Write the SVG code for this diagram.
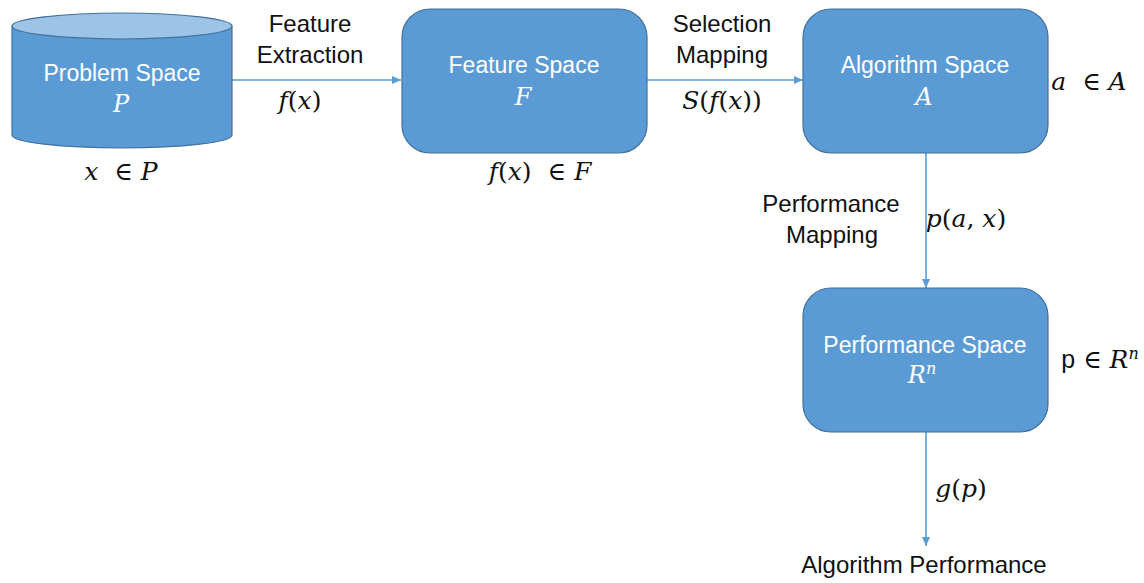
<svg xmlns="http://www.w3.org/2000/svg" width="1144" height="583" viewBox="0 0 1144 583">
<defs>
<marker id="arr" markerWidth="10" markerHeight="10" refX="9" refY="5" orient="auto" markerUnits="userSpaceOnUse">
<path d="M0,1 L9,5 L0,9 Z" fill="#5B9BD5"/>
</marker>
<style>
.box{fill:#5B9BD5;stroke:#41719C;stroke-width:1.2}
.wt{font-family:"Liberation Sans",Arial,sans-serif;font-size:23px;fill:#fff;text-anchor:middle}
.wm{font-family:"DejaVu Serif","Liberation Serif",serif;font-style:italic;font-size:24px;fill:#fff;text-anchor:middle}
.lb{font-family:"Liberation Sans",Arial,sans-serif;font-size:24px;fill:#111;text-anchor:middle}
.mt{font-family:"DejaVu Serif","Liberation Serif",serif;font-style:italic;font-size:25px;fill:#111;text-anchor:middle}
.up{font-style:normal}
.con{stroke:#5B9BD5;stroke-width:1.6;fill:none;marker-end:url(#arr)}
</style>
</defs>
<g id="connectors">
<line class="con" x1="232" y1="80" x2="401" y2="80"/>
<line class="con" x1="647" y1="80" x2="803" y2="80"/>
<line class="con" x1="926" y1="153" x2="926" y2="288"/>
<line class="con" x1="926" y1="432" x2="926" y2="546"/>
<text class="lb" x="310" y="32">Feature</text>
<text class="lb" x="310" y="63">Extraction</text>
<text class="mt" x="300" y="109">f<tspan class="up">(</tspan>x<tspan class="up">)</tspan></text>
<text class="lb" x="722" y="32">Selection</text>
<text class="lb" x="722" y="63">Mapping</text>
<text class="mt" x="722" y="109">S<tspan class="up">(</tspan>f<tspan class="up">(</tspan>x<tspan class="up">))</tspan></text>
<text class="lb" x="831" y="212">Performance</text>
<text class="lb" x="832" y="243">Mapping</text>
<text class="mt" x="966" y="227">p<tspan class="up">(</tspan>a<tspan class="up">, </tspan>x<tspan class="up">)</tspan></text>
<text class="mt" x="961" y="497">g<tspan class="up">(</tspan>p<tspan class="up">)</tspan></text>
</g>
<g id="problem-space">
<path class="box" d="M12,26 L12,135 A110,13 0 0 0 232,135 L232,26"/>
<ellipse cx="122" cy="26" rx="110" ry="13" fill="#9DC3E6" stroke="#41719C" stroke-width="1.2"/>
<text class="wt" x="122" y="81">Problem Space</text>
<text class="wm" x="121" y="112">P</text>
<text class="mt" x="121" y="180" xml:space="preserve">x  <tspan class="up">∈</tspan> P</text>
</g>
<g id="feature-space">
<rect class="box" x="402" y="9" width="245" height="144" rx="28"/>
<text class="wt" x="524" y="73">Feature Space</text>
<text class="wm" x="523" y="105">F</text>
<text class="mt" x="540" y="180" xml:space="preserve">f<tspan class="up">(</tspan>x<tspan class="up">)</tspan>  <tspan class="up">∈</tspan> F</text>
</g>
<g id="algorithm-space">
<rect class="box" x="803" y="9" width="245" height="144" rx="28"/>
<text class="wt" x="925" y="73">Algorithm Space</text>
<text class="wm" x="924" y="105">A</text>
<text class="mt" x="1089" y="90" xml:space="preserve">a  <tspan class="up">∈</tspan> A</text>
</g>
<g id="performance-space">
<rect class="box" x="803" y="288" width="245" height="144" rx="28"/>
<text class="wt" x="925" y="353">Performance Space</text>
<text class="wm" x="922" y="383">R<tspan dy="-9" font-size="16">n</tspan></text>
<text class="mt" x="1100" y="368"><tspan class="up" font-family="Liberation Sans">p</tspan> <tspan class="up">∈</tspan> R<tspan dy="-9" font-size="16">n</tspan></text>
</g>
<g id="algorithm-performance">
<text class="lb" x="924" y="573">Algorithm Performance</text>
</g>
</svg>
